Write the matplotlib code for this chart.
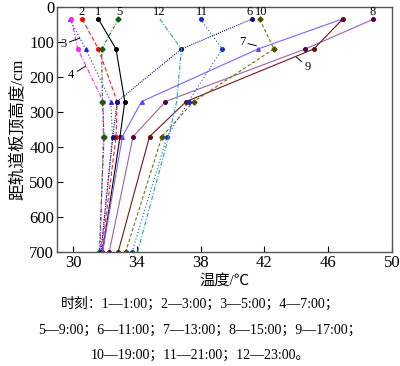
import matplotlib
matplotlib.use("Agg")
import matplotlib.pyplot as plt

plt.rcParams['font.family'] = ['Liberation Serif', 'Noto Sans CJK SC', 'DejaVu Sans']
plt.rcParams['mathtext.fontset'] = 'stix'

depths = [35, 120, 270, 370, 700]
s1 = [31.6, 32.7, 33.25, 32.95, 31.85]
s2 = [30.58, 31.6, 32.77, 32.7, 31.8]
s3 = [29.8, 30.8, 32.37, 32.48, 31.75]
s4 = [29.9, 30.3, 31.9, 31.9, 31.7]
s5 = [32.85, 31.8, 31.85, 31.95, 31.65]
s6 = [41.2, 36.8, 32.77, 32.5, 31.75]
s7 = [46.85, 41.6, 34.3, 33.1, 31.85]
s8 = [48.83, 44.56, 35.8, 33.77, 32.27]
s9 = [46.9, 45.1, 37.1, 34.8, 32.83]
s10 = [41.7, 42.6, 37.56, 35.58, 33.3]
s11 = [38.0, 39.35, 37.25, 35.9, 33.7]
s12 = [35.45, 36.8, 36.5, 36.0, 34.05]

series = [s1, s2, s3, s4, s5, s6, s7, s8, s9, s10, s11, s12]
names = ['1', '2', '3', '4', '5', '6', '7', '8', '9', '10', '11', '12']
xticks = [30, 34, 38, 42, 46, 50]
yticks = [0, 100, 200, 300, 400, 500, 600, 700]

styles = [
    dict(color='#000000', ls='-', marker='o'),
    dict(color='#ff2020', ls=(0, (4, 2)), marker='o'),
    dict(color='#2020ff', ls=(0, (1, 2)), marker='^'),
    dict(color='#ff20ff', ls=(0, (4, 1.5, 1, 1.5)), marker='o'),
    dict(color='#207020', ls=(0, (3, 1.5, 1, 1.5)), marker='D'),
    dict(color='#101080', ls=(0, (1, 1)), marker='o'),
    dict(color='#8060ff', ls='-', marker='^'),
    dict(color='#a060a0', ls='-', marker='o'),
    dict(color='#701818', ls='-', marker='o'),
    dict(color='#707010', ls=(0, (3, 2)), marker='D'),
    dict(color='#2050e0', ls=(0, (1, 2)), marker='o'),
    dict(color='#20a8a8', ls=(0, (4, 1.5, 1, 1.5)), marker=None),
]
mface = ['#000000', '#ff0000', '#2020ff', '#ff20ff', '#106010', '#101080',
         '#6040ff', '#500050', '#601010', '#505000', '#1030c0', '#20a8a8']

fig = plt.figure(figsize=(4.0, 3.66), dpi=100)
ax = fig.add_axes([0.1425, 0.311, 0.8375, 0.67])

for s, st, mf in zip(series, styles, mface):
    ax.plot(s, depths, color=st['color'], linestyle=st['ls'], linewidth=0.8,
            marker=st['marker'], markersize=2.6, markerfacecolor=mf,
            markeredgecolor=mf)

ax.set_xlim(29, 50)
ax.set_ylim(700, 0)
ax.set_xticks(xticks)
ax.set_yticks(yticks)
ax.tick_params(direction='in', labelsize=12, length=4, width=0.8, pad=2)
for sp in ax.spines.values():
    sp.set_color('#555555')
    sp.set_linewidth(1.0)

# number labels at top
top_labels = [('1', 31.56), ('2', 30.56), ('5', 32.9), ('12', 35.4), ('11', 38.06),
              ('6', 41.1), ('10', 41.8), ('8', 48.8)]
for t, x in top_labels:
    ax.text(x, 14, t, fontsize=9, ha='center', va='center')

# labels with pointer lines
ptr = [('3', (29.4, 106), (30.44, 89)), ('4', (29.9, 194), (30.8, 169)),
       ('7', (40.6, 100), (41.5, 111)), ('9', (44.7, 171), (44.0, 143))]
for t, xyt, xy in ptr:
    ax.annotate(t, xy=xy, xytext=xyt, fontsize=9, ha='center', va='center',
                arrowprops=dict(arrowstyle='-', color='black', lw=0.7,
                                shrinkA=0, shrinkB=0))

ax.set_xlabel('温度/℃', fontsize=11, labelpad=2)
ax.set_ylabel('距轨道板顶高度/cm', fontsize=12, labelpad=2)

cap = ['时刻：1—1:00；2—3:00；3—5:00；4—7:00；',
       '5—9:00；6—11:00；7—13:00；8—15:00；9—17:00；',
       '10—19:00；11—21:00；12—23:00。']
ys = [304, 330, 355]
for line, y in zip(cap, ys):
    fig.text(0.5, 1 - y / 366, line, fontsize=10, ha='center', va='center')

fig.savefig('out.png', dpi=100)
